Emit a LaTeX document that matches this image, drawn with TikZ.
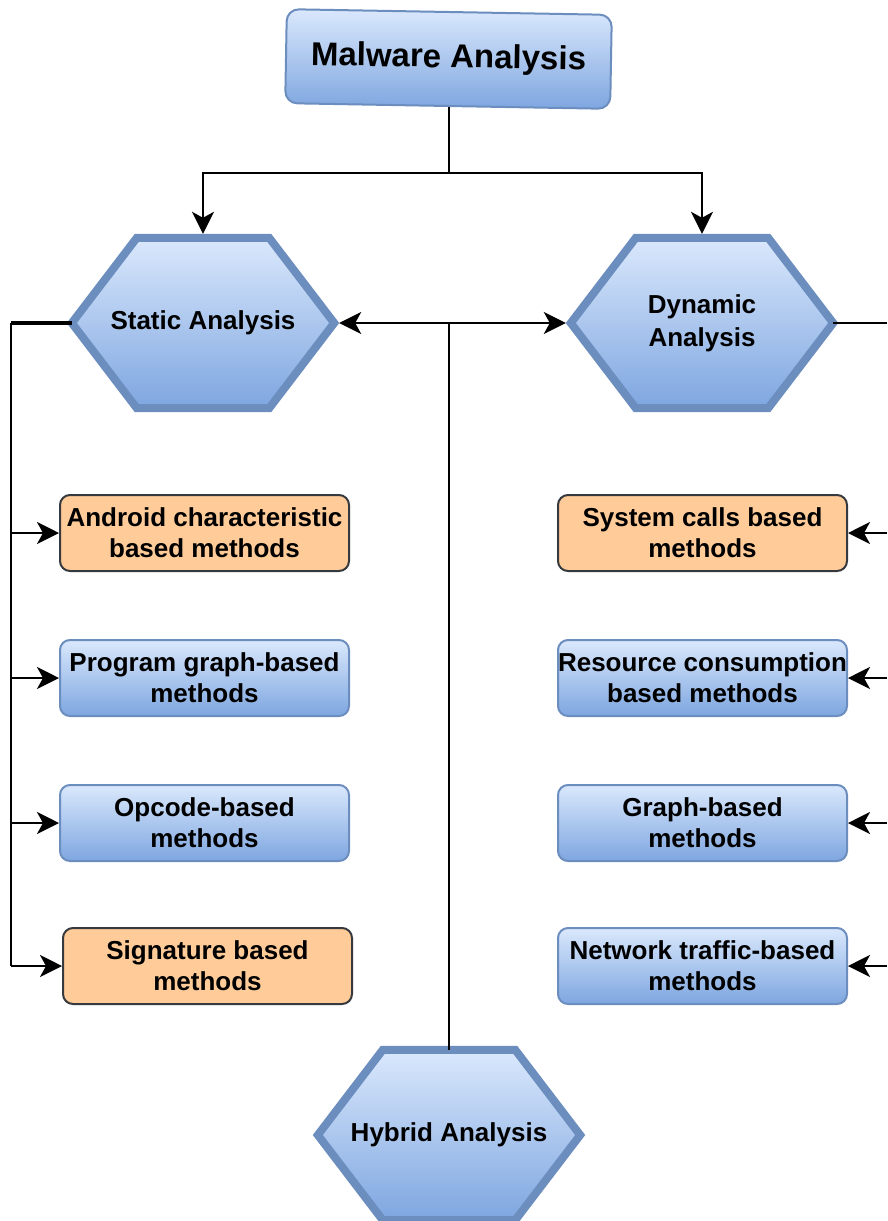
\documentclass[tikz,border=0pt]{standalone}
\usepackage{fontspec}
\setmainfont{Liberation Sans}
\usetikzlibrary{arrows.meta,backgrounds,calc}

\definecolor{blueline}{HTML}{6C8EBF}
\definecolor{bluetop}{HTML}{DAE8FC}
\definecolor{bluebot}{HTML}{7EA6E0}
\definecolor{orangefill}{HTML}{FFCC99}
\definecolor{orangeline}{HTML}{36393D}

% hexagon outline drawn around a named anchor node
\newcommand\drawhex[1]{%
  \path[hexshape] (#1.west) -- ($(#1.north west)+(65,0)$) -- ($(#1.north east)+(-65,0)$)
    -- (#1.east) -- ($(#1.south east)+(-65,0)$) -- ($(#1.south west)+(65,0)$) -- cycle;}

\begin{document}
\begin{tikzpicture}[x=1pt,y=-1pt,
  every node/.style={font=\bfseries\fontsize{26}{31}\selectfont, align=center, inner sep=0pt},
  titlebox/.style={rounded corners=12pt, draw=blueline, line width=2pt,
    top color=bluetop, bottom color=bluebot, minimum width=325pt, minimum height=94pt,
    font=\bfseries\fontsize{33}{38}\selectfont},
  hexanchor/.style={minimum width=262pt, minimum height=170pt},
  hexshape/.style={draw=blueline, line width=8pt, top color=bluetop, bottom color=bluebot, line join=miter},
  bluebox/.style={rounded corners=10pt, draw=blueline, line width=2pt,
    top color=bluetop, bottom color=bluebot, minimum width=289pt, minimum height=76pt},
  orangebox/.style={rounded corners=10pt, draw=orangeline, line width=2pt,
    fill=orangefill, minimum width=289pt, minimum height=76pt},
  link/.style={draw=black, line width=2.3pt},
  arrowto/.style={-{Stealth[length=22pt,width=22pt,inset=6pt]}}
]
\useasboundingbox (0,0) rectangle (887,1221);

% root
\node[titlebox, rotate=-1] (title) at (448.5,59) {Malware Analysis};

% analysis kinds (hexagons drawn on the background layer)
\node[hexanchor] (stat) at (203,323) {\raisebox{-2pt}{Static Analysis}};
\node[hexanchor] (dyn) at (702,323) {Dynamic\\[2pt]Analysis};
\node[hexanchor] (hyb) at (449,1135) {\raisebox{-1pt}{Hybrid Analysis}};
\begin{scope}[on background layer]
  \drawhex{stat}
  \drawhex{dyn}
  \drawhex{hyb}
\end{scope}

% static methods
\node[orangebox] (android) at (204.5,533) {Android characteristic\\based methods};
\node[bluebox]   (progg)   at (204.5,678) {Program graph-based\\methods};
\node[bluebox]   (opcode)  at (204.5,823) {Opcode-based\\methods};
\node[orangebox] (sig)     at (207.5,966) {Signature based\\methods};

% dynamic methods
\node[orangebox] (syscall) at (702.5,533) {System calls based\\methods};
\node[bluebox]   (resource) at (702.5,678) {Resource consumption\\based methods};
\node[bluebox]   (graphb)  at (702.5,823) {Graph-based\\methods};
\node[bluebox]   (net)     at (702.5,966) {Network traffic-based\\methods};

% junction points
\coordinate (split) at (449,173);
\coordinate (hub) at (449,323);
\coordinate (ltrunk) at (11,323);
\coordinate (rtrunk) at (887,323);

% root to static / dynamic
\draw[link] (title.south -| split) -- (split);
\draw[link, arrowto, shorten >=4pt] (split) -| (stat.north);
\draw[link, arrowto, shorten >=4pt] (split) -| (dyn.north);

% hybrid feeding both sides
\draw[link] (hyb.north) -- (hub);
\draw[link, arrowto, shorten >=5pt] (hub) -- (stat.east);
\draw[link, arrowto, shorten >=5pt] (hub) -- (dyn.west);

% static branch
\draw[black, line width=3.5pt] (stat.west) -- (ltrunk);
\draw[link] (ltrunk) -- (ltrunk |- sig.west);
\foreach \b in {android, progg, opcode, sig}
  \draw[link, arrowto] (ltrunk |- \b.west) -- (\b.west);

% dynamic branch
\draw[link] (dyn.east) -- (rtrunk);
\foreach \b in {syscall, resource, graphb, net}
  \draw[link, arrowto] (rtrunk |- \b.east) -- (\b.east);
\end{tikzpicture}
\end{document}
